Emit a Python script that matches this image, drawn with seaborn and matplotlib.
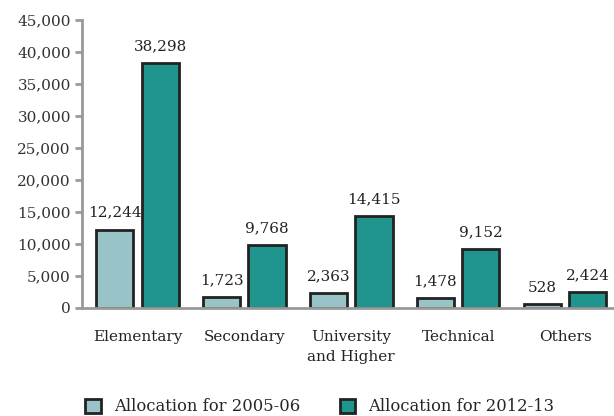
import pandas as pd
import numpy as np
import seaborn as sns
import matplotlib.pyplot as plt

categories = ['Elementary', 'Secondary', 'University\nand Higher', 'Technical', 'Others']
alloc_0506 = [12244, 1723, 2363, 1478, 528]
alloc_1213 = [38298, 9768, 14415, 9152, 2424]
series = ['Allocation for 2005-06', 'Allocation for 2012-13']

df = pd.DataFrame({
    'cat': categories * 2,
    'val': alloc_0506 + alloc_1213,
    'series': [series[0]] * 5 + [series[1]] * 5,
})

sns.set_style('white')
plt.rcParams['font.family'] = ['DejaVu Serif']

fig = plt.figure(figsize=(6.14, 4.16), dpi=100)
ax = fig.add_axes([82 / 614, 0.26, 532 / 614, 0.692])

pal = ['#98c4c8', '#1f958e']
sns.barplot(data=df, x='cat', y='val', hue='series', palette=pal, saturation=1,
            edgecolor='#222222', linewidth=2, width=0.85, gap=0.18, ax=ax)

for c in ax.containers:
    ax.bar_label(c, labels=['{:,}'.format(int(v)) for v in c.datavalues],
                 padding=7, fontsize=11, color='#222222')

ax.set_xlim(-0.519, 4.458)
ax.set_ylim(0, 45000)
ax.set_yticks(np.arange(0, 45001, 5000))
ax.set_yticklabels(['{:,}'.format(v) for v in range(0, 45001, 5000)], fontsize=11, color='#333333')
ax.set_xticks(range(5))
ax.set_xticklabels(categories, fontsize=11, color='#222222', linespacing=1.55)
ax.tick_params(axis='x', length=0, pad=16)
ax.tick_params(axis='y', length=5, width=2, color='#999999', direction='out', left=True, pad=3)
ax.set_xlabel('')
ax.set_ylabel('')
for s in ['top', 'right']:
    ax.spines[s].set_visible(False)
ax.spines['left'].set_color('#999999')
ax.spines['left'].set_linewidth(2)
ax.spines['bottom'].set_color('#999999')
ax.spines['bottom'].set_linewidth(2)

ax.legend(loc='center left', bbox_to_anchor=(-0.006, -0.344), ncol=2, frameon=False,
          fontsize=11.8, handlelength=0.95, handleheight=0.95, handletextpad=0.8,
          columnspacing=2.4, borderaxespad=0)

fig.savefig('out.png', dpi=100)
